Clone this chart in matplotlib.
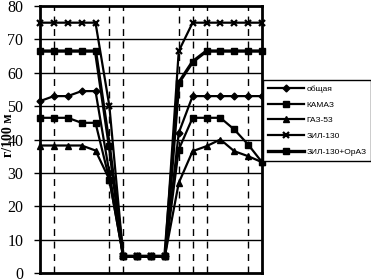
import matplotlib
matplotlib.use("Agg")
import matplotlib.pyplot as plt
import numpy as np

# fuel consumption, g/100 m, 17 points along the route
obshaya = [51.5, 53, 53, 54.5, 54.5, 30, 5, 5, 5, 5, 42, 53, 53, 53, 53, 53, 53]
kamaz = [46.5, 46.5, 46.5, 45, 45, 28, 5, 5, 5, 5, 37, 46.5, 46.5, 46.5, 43, 38.5, 33.2]
gaz53 = [38.2, 38.2, 38.2, 38.2, 36.7, 28, 5, 5, 5, 5, 27, 36.5, 38, 40, 36.5, 35, 33.2]
zil130 = [75, 75, 75, 75, 75, 50, 5, 5, 5, 5, 66.5, 75, 75, 75, 75, 75, 75]
zil130_oraz = [66.5, 66.5, 66.5, 66.5, 66.5, 38, 5, 5, 5, 5, 57, 63.3, 66.5, 66.5, 66.5, 66.5, 66.5]

labels = ["общая", "КАМАЗ", "ГАЗ-53", "ЗИЛ-130", "ЗИЛ-130+ОрАЗ"]
dashed_at = [1, 5, 6, 10, 11, 12, 15]
yticks = [0, 10, 20, 30, 40, 50, 60, 70, 80]

x = np.arange(len(obshaya))

fig = plt.figure(figsize=(3.71, 2.79), dpi=100)
ax = fig.add_axes([40/371, 1-273/279, 222/371, 267/279])

for xd in dashed_at:
    ax.axvline(xd, color="k", lw=1, ls=(0, (5, 4)), zorder=1)
for yt in yticks[1:-1]:
    ax.axhline(yt, color="k", lw=1, zorder=1)

ax.plot(x, obshaya, "k-", marker="D", ms=3.5, lw=1.6, label=labels[0], clip_on=False, zorder=3)
ax.plot(x, kamaz, "k-", marker="s", ms=4, lw=1.6, label=labels[1], clip_on=False, zorder=3)
ax.plot(x, gaz53, "k-", marker="^", ms=4, lw=1.6, label=labels[2], clip_on=False, zorder=3)
ax.plot(x, zil130, "k-", marker="x", ms=4.5, mew=1.6, lw=1.6, label=labels[3], clip_on=False, zorder=3)
ax.plot(x, zil130_oraz, "k-", marker="s", ms=4, lw=2.4, label=labels[4], clip_on=False, zorder=3)

ax.set_xlim(0, 16)
ax.set_ylim(0, 80)
ax.set_xticks([])
ax.set_yticks(yticks)
ax.set_yticklabels([str(v) for v in yticks], family="Liberation Serif", fontsize=11.5)
ax.tick_params(axis="y", direction="out", length=4, width=1, pad=8)
for s in ax.spines.values():
    s.set_linewidth(2)

fig.text(9/371, 1-135/279, "г/100 м", rotation=90, ha="center", va="center",
         family="Liberation Serif", fontweight="bold", fontsize=10)

leg = fig.legend(loc="upper left", bbox_to_anchor=(263/371, 1-80/279), prop={"family": "Liberation Sans", "size": 6},
                 frameon=True, fancybox=False, edgecolor="k", framealpha=1,
                 handlelength=4.3, handletextpad=0.3, labelspacing=0.95, borderpad=0.6, borderaxespad=0)
leg.get_frame().set_linewidth(1)

fig.savefig("out.png", dpi=100)
